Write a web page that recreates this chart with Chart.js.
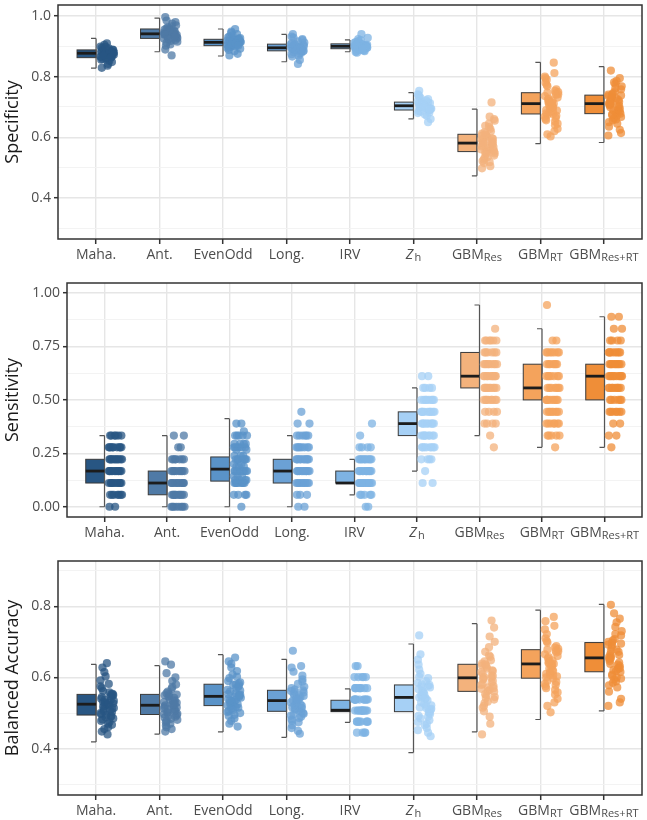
<!DOCTYPE html>
<html>
<head>
<meta charset="utf-8">
<script src="https://cdn.jsdelivr.net/npm/chart.js@4.4.0/dist/chart.umd.min.js"></script>
<style>
  body { margin: 0; background: #fff; }
  canvas { position: absolute; left: 0; }
</style>
</head>
<body>
<canvas id="spec" width="647" height="270" style="top:0"></canvas>
<canvas id="sens" width="647" height="276" style="top:270px"></canvas>
<canvas id="bacc" width="647" height="274" style="top:546px"></canvas>
<script>
const CATEGORIES = ['Maha.', 'Ant.', 'EvenOdd', 'Long.', 'IRV', 'Z_h', 'GBM_Res', 'GBM_RT', 'GBM_Res+RT'];
const COLORS = ['#285683', '#4f7aa6', '#5a93c8', '#6ba1d5', '#7eb3e3', '#a6d0f5', '#f3b27c', '#f4a35c', '#ef8e38'];

// jitter pattern (category units, to the right of the centre)
const JITTER = [0.17, 0.08, 0.26, 0.12, 0.21, 0.09, 0.28, 0.15, 0.23, 0.11, 0.19, 0.07, 0.25, 0.14, 0.27, 0.10,
                0.20, 0.13, 0.24, 0.08, 0.18, 0.22, 0.11, 0.27, 0.16, 0.09, 0.25, 0.13, 0.20, 0.07, 0.23];

// ---- Specificity ----
const SPEC_TICKS = [0.4, 0.6, 0.8, 1.0];
const SPEC_MINOR = [0.3, 0.5, 0.7, 0.9];
const SPEC_Q1  = [0.8625, 0.926, 0.902, 0.885, 0.892, 0.690, 0.553, 0.677, 0.678];
const SPEC_MED = [0.877, 0.941, 0.913, 0.895, 0.900, 0.704, 0.581, 0.711, 0.711];
const SPEC_Q3  = [0.888, 0.957, 0.923, 0.907, 0.908, 0.716, 0.610, 0.747, 0.739];
const SPEC_LO  = [0.828, 0.882, 0.868, 0.849, 0.882, 0.661, 0.473, 0.579, 0.583];
const SPEC_HI  = [0.926, 0.993, 0.957, 0.939, 0.921, 0.747, 0.693, 0.847, 0.833];
const SPEC_VALUES = [
  // Maha.
  [0.877,0.865,0.889,0.871,0.852,0.895,0.880,0.860,0.884,0.873,0.842,0.899,0.868,0.878,0.887,0.858,0.874,0.905,0.864,0.882,
   0.836,0.870,0.891,0.876,0.862,0.883,0.848,0.879,0.893,0.866,0.875,0.910,0.856,0.881,0.869,0.886,0.829,0.872,0.898,0.863],
  // Ant.
  [0.941,0.927,0.958,0.935,0.912,0.966,0.945,0.921,0.951,0.938,0.902,0.975,0.931,0.948,0.955,0.918,0.943,0.985,0.929,0.952,
   0.889,0.936,0.962,0.944,0.925,0.950,0.906,0.940,0.969,0.933,0.946,0.996,0.915,0.953,0.930,0.959,0.870,0.939,0.980,0.923],
  // EvenOdd
  [0.913,0.903,0.925,0.908,0.892,0.932,0.916,0.899,0.921,0.911,0.884,0.940,0.905,0.915,0.924,0.896,0.912,0.948,0.901,0.919,
   0.875,0.909,0.929,0.914,0.900,0.920,0.888,0.914,0.936,0.906,0.917,0.957,0.894,0.922,0.907,0.927,0.870,0.910,0.944,0.902],
  // Long.
  [0.895,0.886,0.908,0.890,0.874,0.916,0.898,0.881,0.904,0.893,0.866,0.924,0.887,0.897,0.906,0.878,0.894,0.932,0.884,0.901,
   0.855,0.891,0.912,0.896,0.883,0.903,0.869,0.896,0.920,0.888,0.899,0.940,0.876,0.905,0.889,0.910,0.842,0.892,0.928,0.885],
  // IRV
  [0.900,0.893,0.909,0.896,0.887,0.914,0.902,0.890,0.906,0.899,0.884,0.920,0.894,0.901,0.907,0.888,0.899,0.928,0.892,0.904,
   0.879,0.897,0.911,0.900,0.891,0.905,0.885,0.901,0.917,0.895,0.903,0.940,0.886,0.906,0.895,0.910,0.881,0.898,0.924,0.892],
  // Z_h
  [0.704,0.691,0.717,0.697,0.680,0.726,0.707,0.687,0.713,0.701,0.671,0.734,0.694,0.706,0.715,0.684,0.703,0.742,0.689,0.710,
   0.660,0.698,0.722,0.705,0.690,0.712,0.675,0.702,0.730,0.695,0.708,0.753,0.682,0.714,0.696,0.719,0.650,0.700,0.738,0.692],
  // GBM_Res
  [0.581,0.556,0.612,0.568,0.532,0.628,0.590,0.547,0.604,0.575,0.515,0.645,0.560,0.586,0.608,0.540,0.579,0.668,0.551,0.597,
   0.498,0.565,0.620,0.583,0.553,0.601,0.522,0.577,0.638,0.562,0.593,0.715,0.535,0.606,0.558,0.616,0.505,0.572,0.655,0.549,
   0.588,0.527,0.634,0.570,0.595,0.544,0.660,0.584,0.518,0.610],
  // GBM_RT
  [0.711,0.679,0.749,0.694,0.652,0.768,0.722,0.668,0.740,0.703,0.628,0.790,0.685,0.716,0.745,0.660,0.708,0.812,0.674,0.731,
   0.603,0.690,0.758,0.713,0.677,0.736,0.640,0.705,0.780,0.688,0.725,0.846,0.656,0.742,0.682,0.753,0.610,0.698,0.800,0.671,
   0.719,0.645,0.772,0.700,0.728,0.664,0.795,0.714,0.620,0.747],
  // GBM_Res+RT
  [0.711,0.680,0.741,0.695,0.656,0.758,0.720,0.670,0.734,0.704,0.635,0.776,0.687,0.715,0.738,0.663,0.708,0.795,0.676,0.728,
   0.606,0.692,0.750,0.712,0.678,0.731,0.645,0.706,0.768,0.689,0.723,0.820,0.659,0.736,0.684,0.745,0.614,0.699,0.786,0.673,
   0.717,0.650,0.762,0.701,0.726,0.667,0.781,0.713,0.625,0.740]
];

// ---- Sensitivity ----
const SENS_TICKS = [0, 0.25, 0.5, 0.75, 1.0];
const SENS_MINOR = [0.125, 0.375, 0.625, 0.875];
const SENS_Q1  = [0.111, 0.056, 0.120, 0.111, 0.111, 0.333, 0.556, 0.500, 0.500];
const SENS_MED = [0.167, 0.111, 0.176, 0.167, 0.111, 0.389, 0.611, 0.556, 0.611];
const SENS_Q3  = [0.222, 0.167, 0.233, 0.222, 0.167, 0.444, 0.722, 0.667, 0.667];
const SENS_LO  = [0, 0, 0, 0, 0.056, 0.167, 0.333, 0.278, 0.278];
const SENS_HI  = [0.333, 0.333, 0.412, 0.333, 0.222, 0.556, 0.944, 0.833, 0.889];
// [value, number of runs]
const SENS_COUNTS = [
  [[0,2],[0.056,7],[0.111,10],[0.167,12],[0.222,11],[0.278,9],[0.333,6]],
  [[0,8],[0.056,10],[0.111,11],[0.167,10],[0.222,7],[0.278,2],[0.333,2]],
  [[0,1],[0.056,4],[0.111,8],[0.125,4],[0.143,3],[0.167,8],[0.188,3],[0.2,2],[0.222,7],[0.238,3],[0.267,2],[0.278,6],
   [0.294,4],[0.333,5],[0.353,1],[0.389,2]],
  [[0,2],[0.056,3],[0.111,10],[0.167,12],[0.222,11],[0.278,8],[0.333,6],[0.389,2],[0.444,1]],
  [[0,2],[0.056,5],[0.111,14],[0.167,12],[0.222,10],[0.278,4],[0.333,1],[0.389,1]],
  [[0.111,2],[0.167,1],[0.222,4],[0.278,8],[0.333,9],[0.389,10],[0.444,10],[0.5,8],[0.556,4],[0.611,2]],
  [[0.278,1],[0.333,1],[0.389,4],[0.444,4],[0.5,8],[0.556,9],[0.611,10],[0.667,9],[0.722,6],[0.778,6],[0.833,1]],
  [[0.278,1],[0.333,5],[0.389,7],[0.444,8],[0.5,8],[0.556,7],[0.611,7],[0.667,7],[0.722,7],[0.778,2],[0.944,1]],
  [[0.278,1],[0.333,2],[0.389,2],[0.444,7],[0.5,6],[0.556,9],[0.611,10],[0.667,10],[0.722,8],[0.778,4],[0.833,2],[0.889,2]]
];

// ---- Balanced Accuracy ----
const BACC_TICKS = [0.4, 0.6, 0.8];
const BACC_MINOR = [0.3, 0.5, 0.7, 0.9];
const BACC_Q1  = [0.4945, 0.496, 0.521, 0.505, 0.504, 0.504, 0.561, 0.598, 0.616];
const BACC_MED = [0.525, 0.522, 0.547, 0.535, 0.508, 0.544, 0.599, 0.638, 0.655];
const BACC_Q3  = [0.5525, 0.5525, 0.581, 0.564, 0.536, 0.579, 0.637, 0.678, 0.698];
const BACC_LO  = [0.419, 0.441, 0.447, 0.432, 0.474, 0.389, 0.447, 0.482, 0.506];
const BACC_HI  = [0.637, 0.633, 0.664, 0.651, 0.568, 0.694, 0.751, 0.789, 0.805];
const BACC_VALUES = [
  // Maha.
  [0.525,0.497,0.554,0.510,0.475,0.570,0.534,0.488,0.547,0.518,0.460,0.592,0.503,0.530,0.551,0.482,0.522,0.615,0.492,0.540,
   0.440,0.507,0.562,0.527,0.495,0.545,0.467,0.520,0.582,0.500,0.536,0.640,0.478,0.549,0.505,0.558,0.448,0.514,0.603,0.490,
   0.531,0.470,0.575,0.512,0.538,0.485,0.628,0.528,0.455,0.553],
  // Ant.
  [0.522,0.498,0.553,0.510,0.478,0.568,0.531,0.490,0.546,0.516,0.465,0.590,0.503,0.527,0.550,0.484,0.520,0.612,0.494,0.538,
   0.448,0.507,0.560,0.524,0.497,0.543,0.470,0.518,0.580,0.501,0.534,0.645,0.481,0.548,0.505,0.556,0.455,0.513,0.600,0.492,
   0.529,0.474,0.573,0.511,0.536,0.487,0.636,0.525,0.460,0.552],
  // EvenOdd
  [0.547,0.522,0.583,0.534,0.500,0.598,0.556,0.512,0.574,0.540,0.485,0.618,0.528,0.552,0.579,0.506,0.545,0.638,0.517,0.565,
   0.462,0.531,0.590,0.549,0.520,0.570,0.492,0.543,0.608,0.525,0.560,0.656,0.503,0.577,0.530,0.586,0.470,0.537,0.628,0.515,
   0.553,0.495,0.602,0.536,0.563,0.509,0.645,0.550,0.478,0.581],
  // Long.
  [0.535,0.506,0.566,0.520,0.482,0.582,0.545,0.496,0.558,0.528,0.466,0.605,0.512,0.540,0.562,0.490,0.532,0.628,0.500,0.551,
   0.442,0.516,0.574,0.537,0.504,0.555,0.474,0.530,0.595,0.510,0.548,0.675,0.486,0.560,0.514,0.570,0.450,0.524,0.616,0.498,
   0.542,0.478,0.588,0.522,0.550,0.493,0.632,0.538,0.458,0.564],
  // IRV
  [0.507,0.538,0.476,0.570,0.507,0.538,0.601,0.507,0.445,0.538,0.570,0.476,0.507,0.538,0.632,0.507,0.570,0.476,0.538,0.507,
   0.445,0.601,0.538,0.507,0.570,0.476,0.538,0.507,0.601,0.445,0.570,0.507,0.538,0.476,0.507,0.570,0.632,0.538,0.476,0.507,
   0.601,0.445,0.570,0.538,0.476,0.507,0.601,0.570,0.538,0.476],
  // Z_h
  [0.544,0.506,0.581,0.520,0.475,0.598,0.553,0.492,0.572,0.530,0.458,0.622,0.512,0.548,0.576,0.485,0.540,0.650,0.500,0.562,
   0.435,0.516,0.590,0.546,0.503,0.567,0.466,0.536,0.610,0.509,0.557,0.718,0.480,0.574,0.514,0.585,0.445,0.526,0.636,0.497,
   0.550,0.470,0.602,0.522,0.560,0.490,0.665,0.542,0.452,0.579],
  // GBM_Res
  [0.599,0.562,0.639,0.576,0.528,0.658,0.610,0.545,0.630,0.586,0.505,0.685,0.568,0.604,0.634,0.538,0.595,0.715,0.553,0.620,
   0.440,0.572,0.648,0.601,0.560,0.625,0.515,0.590,0.672,0.565,0.615,0.760,0.532,0.633,0.570,0.645,0.470,0.582,0.700,0.550,
   0.606,0.520,0.662,0.579,0.618,0.542,0.740,0.597,0.490,0.637],
  // GBM_RT
  [0.638,0.600,0.680,0.614,0.565,0.698,0.648,0.582,0.670,0.625,0.540,0.722,0.606,0.643,0.675,0.575,0.634,0.745,0.590,0.660,
   0.502,0.610,0.688,0.640,0.597,0.665,0.552,0.629,0.710,0.603,0.654,0.770,0.570,0.673,0.608,0.684,0.520,0.620,0.735,0.587,
   0.646,0.558,0.702,0.618,0.657,0.579,0.758,0.636,0.530,0.678],
  // GBM_Res+RT
  [0.655,0.618,0.700,0.632,0.585,0.718,0.665,0.600,0.690,0.642,0.560,0.742,0.624,0.660,0.695,0.594,0.651,0.765,0.608,0.678,
   0.520,0.628,0.708,0.657,0.615,0.684,0.572,0.646,0.730,0.621,0.672,0.804,0.589,0.692,0.626,0.704,0.540,0.638,0.755,0.605,
   0.663,0.578,0.722,0.636,0.675,0.597,0.780,0.653,0.530,0.698]
];

const FONT = "'Open Sans', sans-serif";
const BOX_W = 0.3;   // box extends left of the category centre
const CAP_W = 0.08;  // whisker caps

function rgba(hex, a) {
  const n = parseInt(hex.slice(1), 16);
  return 'rgba(' + (n >> 16) + ',' + ((n >> 8) & 255) + ',' + (n & 255) + ',' + a + ')';
}

function pointsFromValues(vals, i) {
  return vals.map((v, j) => ({ x: i + JITTER[(j + i * 5) % JITTER.length], y: v }));
}

function pointsFromCounts(pairs, i) {
  const out = [];
  let j = i * 5;
  pairs.forEach(([v, n]) => {
    for (let k = 0; k < n; k++) out.push({ x: i + JITTER[j++ % JITTER.length], y: v });
  });
  return out;
}

function drawBoxes(chart, st) {
  const ctx = chart.ctx, x = chart.scales.x, y = chart.scales.y;
  ctx.save();
  for (let i = 0; i < CATEGORIES.length; i++) {
    const xc = x.getPixelForValue(i), xl = x.getPixelForValue(i - BOX_W), xcap = x.getPixelForValue(i - CAP_W);
    const yq1 = y.getPixelForValue(st.q1[i]), yq3 = y.getPixelForValue(st.q3[i]);
    const ymed = y.getPixelForValue(st.med[i]);
    const ylo = y.getPixelForValue(st.lo[i]), yhi = y.getPixelForValue(st.hi[i]);
    // box
    ctx.fillStyle = COLORS[i];
    ctx.fillRect(xl, yq3, xc - xl, yq1 - yq3);
    ctx.strokeStyle = '#3a3a3a';
    ctx.lineWidth = 1;
    ctx.strokeRect(xl, yq3, xc - xl, yq1 - yq3);
    // whiskers
    ctx.strokeStyle = '#555';
    ctx.lineWidth = 1.2;
    ctx.beginPath();
    ctx.moveTo(xc, yhi); ctx.lineTo(xc, ylo);
    ctx.moveTo(xcap, yhi); ctx.lineTo(xc, yhi);
    ctx.moveTo(xcap, ylo); ctx.lineTo(xc, ylo);
    ctx.stroke();
    // median
    ctx.strokeStyle = '#1c1c1c';
    ctx.lineWidth = 2.8;
    ctx.beginPath();
    ctx.moveTo(xl, ymed); ctx.lineTo(xc, ymed);
    ctx.stroke();
  }
  ctx.restore();
}

function drawFrame(chart) {
  const ctx = chart.ctx, a = chart.chartArea;
  ctx.save();
  ctx.strokeStyle = '#333';
  ctx.lineWidth = 1.5;
  ctx.strokeRect(a.left, a.top, a.right - a.left, a.bottom - a.top);
  ctx.restore();
}

function drawXLabels(chart) {
  const ctx = chart.ctx, x = chart.scales.x;
  const base = chart.chartArea.bottom + 19.5;
  ctx.save();
  ctx.fillStyle = '#4d4d4d';
  ctx.textAlign = 'left';
  ctx.textBaseline = 'alphabetic';
  CATEGORIES.forEach((lab, i) => {
    const parts = lab.split('_');
    const main = parts[0], sub = parts[1];
    const mainFont = (main === 'Z' ? 'italic ' : '') + '14px ' + FONT;
    const subFont = '11px ' + FONT;
    ctx.font = mainFont;
    const w1 = ctx.measureText(main).width + (main === 'Z' ? 1.5 : 0);
    let w2 = 0;
    if (sub) { ctx.font = subFont; w2 = ctx.measureText(sub).width; }
    const x0 = x.getPixelForValue(i) - (w1 + w2) / 2;
    ctx.font = mainFont;
    ctx.fillText(main, x0, base);
    if (sub) { ctx.font = subFont; ctx.fillText(sub, x0 + w1, base + 2.5); }
  });
  ctx.restore();
}

function makePanel(id, o) {
  const isMajor = v => o.major.some(m => Math.abs(m - v) < 1e-6);
  const allTicks = o.major.concat(o.minor).sort((a, b) => a - b);
  const datasets = o.points.map((pts, i) => ({
    data: pts,
    backgroundColor: rgba(COLORS[i], 0.75),
    borderWidth: 0,
    pointRadius: 4.1
  }));
  new Chart(document.getElementById(id), {
    type: 'scatter',
    data: { datasets: datasets },
    options: {
      responsive: false,
      animation: false,
      events: [],
      layout: { padding: { top: o.padTop, right: 5, left: 0, bottom: 0 } },
      plugins: { legend: { display: false }, tooltip: { enabled: false } },
      scales: {
        x: {
          type: 'linear', min: -0.6, max: 8.6,
          afterBuildTicks: s => { s.ticks = CATEGORIES.map((c, i) => ({ value: i })); },
          afterFit: s => { s.height = o.xHeight; s.paddingLeft = 0; s.paddingRight = 0; },
          ticks: { autoSkip: false, callback: () => '' },
          border: { display: false },
          grid: { color: '#e6e6e6', lineWidth: 1.4, tickColor: '#333', tickLength: 5, tickWidth: 1.5 }
        },
        y: {
          type: 'linear', min: o.min, max: o.max,
          afterBuildTicks: s => { s.ticks = allTicks.map(v => ({ value: v })); },
          afterFit: s => { s.width = o.axisWidth; s.paddingTop = 0; s.paddingBottom = 0; },
          ticks: {
            autoSkip: false, padding: 3, color: '#4d4d4d',
            font: { family: FONT, size: 14 },
            callback: v => isMajor(v) ? v.toFixed(o.decimals) : ''
          },
          border: { display: false },
          grid: {
            color: c => (c.tick && isMajor(c.tick.value)) ? '#e6e6e6' : '#f2f2f2',
            lineWidth: c => (c.tick && isMajor(c.tick.value)) ? 1.4 : 0.9,
            tickColor: c => (c.tick && isMajor(c.tick.value)) ? '#333' : 'rgba(0,0,0,0)',
            tickLength: 4,
            tickWidth: 1.5
          },
          title: {
            display: true, text: o.title, color: '#1a1a1a',
            font: { family: FONT, size: 18 }, padding: { top: 2, bottom: 0 }
          }
        }
      }
    },
    plugins: [{
      id: 'halfBoxes',
      beforeDatasetsDraw: c => drawBoxes(c, o.stats),
      afterDraw: c => { drawFrame(c); drawXLabels(c); }
    }]
  });
}

makePanel('spec', {
  title: 'Specificity', min: 0.265, max: 1.036, major: SPEC_TICKS, minor: SPEC_MINOR, decimals: 1,
  axisWidth: 58, padTop: 5, xHeight: 31,
  stats: { q1: SPEC_Q1, med: SPEC_MED, q3: SPEC_Q3, lo: SPEC_LO, hi: SPEC_HI },
  points: SPEC_VALUES.map(pointsFromValues)
});

makePanel('sens', {
  title: 'Sensitivity', min: -0.048, max: 1.047, major: SENS_TICKS, minor: SENS_MINOR, decimals: 2,
  axisWidth: 67, padTop: 13, xHeight: 29,
  stats: { q1: SENS_Q1, med: SENS_MED, q3: SENS_Q3, lo: SENS_LO, hi: SENS_HI },
  points: SENS_COUNTS.map(pointsFromCounts)
});

makePanel('bacc', {
  title: 'Balanced Accuracy', min: 0.270, max: 0.927, major: BACC_TICKS, minor: BACC_MINOR, decimals: 1,
  axisWidth: 58, padTop: 15, xHeight: 25,
  stats: { q1: BACC_Q1, med: BACC_MED, q3: BACC_Q3, lo: BACC_LO, hi: BACC_HI },
  points: BACC_VALUES.map(pointsFromValues)
});
</script>
</body>
</html>
